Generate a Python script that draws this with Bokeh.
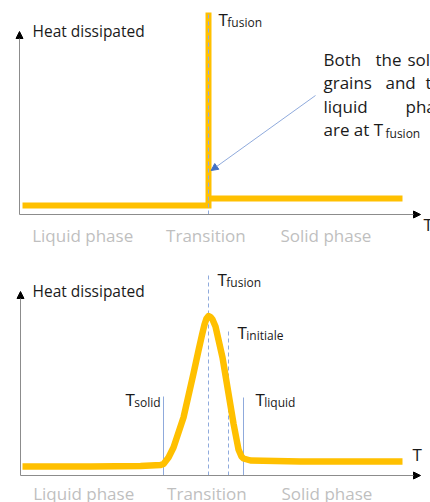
from bokeh.plotting import figure
from bokeh.models import Range1d, Label, Arrow, NormalHead
from bokeh.layouts import column
from bokeh.core.properties import value
from bokeh.embed import file_html
from bokeh.resources import INLINE

FONT = "Open Sans"
ORANGE = "#FFC000"
LIGHTBLUE = "#8FAADC"
DARKBLUE = "#4472C4"
AXIS = "#8C8C8C"
PHASE_COL = "#BFBFBF"
TXT = "#1A1A1A"
SHIFT = 6.5  # px, baseline correction for labels

# ---------------- data ----------------
phase_labels = ["Liquid phase", "Transition", "Solid phase"]
phase_pos = [15.8, 46.6, 76.6]

# pure substance (top)
T_fusion_top = 47.25
liquid_T = [0.75, 47.25, 47.25]
liquid_heat = [4.5, 4.5, 101.0]
solid_T = [47.25, 95.75]
solid_heat = [8.0, 8.0]

# alloy (bottom)
curve_T = [0.5, 17.5, 30.0, 35.0, 35.75, 37.0, 38.25, 39.5, 40.75, 42.0, 43.25, 44.5,
           45.4, 46.0, 46.5, 47.0, 47.5, 48.0, 48.75, 50.5, 52.0, 53.25, 54.5, 55.25,
           55.75, 57.5, 70.0, 95.5]
curve_heat = [4.5, 4.5, 4.8, 5.2, 5.8, 9.0, 14.0, 21.5, 29.0, 40.0, 51.0, 62.5,
              70.5, 75.5, 78.5, 79.7, 79.3, 78.0, 74.5, 59.0, 41.0, 26.0, 13.0, 9.5,
              8.5, 7.5, 7.0, 7.0]
T_solid, T_fusion, T_initiale, T_liquid = 35.75, 47.0, 52.0, 55.75
solid_line_T = [T_solid, T_liquid]
solid_line_top = [39.5, 39.0]
dash_line_T = [T_fusion, T_initiale]
dash_line_top = [101.0, 73.5]


def make_fig(h, xr, yr):
    p = figure(width=430, height=h, x_range=Range1d(*xr), y_range=Range1d(*yr),
               output_backend="svg", toolbar_location=None,
               x_axis_location=None, y_axis_location=None, min_border=0)
    p.outline_line_color = None
    p.xgrid.grid_line_color = None
    p.ygrid.grid_line_color = None
    p.background_fill_color = "white"
    p.border_fill_color = "white"
    return p


def axes(p, xtip, ytip):
    p.add_layout(Arrow(x_start=0, y_start=0, x_end=xtip, y_end=0, line_color=AXIS, line_width=1,
                       end=NormalHead(size=7, fill_color="black", line_color="black")))
    p.add_layout(Arrow(x_start=0, y_start=0, x_end=0, y_end=ytip, line_color=AXIS, line_width=1,
                       end=NormalHead(size=7, fill_color="black", line_color="black")))


def lab(p, x, y, text, size="17px", color=TXT, xo=0, yo=0):
    p.add_layout(Label(x=x, y=y, text=text, text_font=FONT, text_font_size=size,
                       text_color=color, text_baseline="alphabetic", x_offset=xo, y_offset=yo + SHIFT))


def tlab(p, x, y, sub):
    lab(p, x, y, "T")
    lab(p, x, y, sub, size="12px", xo=8.8, yo=-3.5)


# ---------------- top panel ----------------
top = make_fig(255, (-4.75, 102.75), (-20.5, 107))
axes(top, 100.25, 91.5)
top.multi_line(xs=[liquid_T, solid_T], ys=[liquid_heat, solid_heat], line_color=ORANGE,
               line_width=6, line_join="miter", line_cap="butt")
top.segment(x0=[T_fusion_top], y0=[0], x1=[T_fusion_top], y1=[liquid_heat[-1]],
            line_color=LIGHTBLUE, line_width=1, line_dash="4 3")
top.add_layout(Arrow(x_start=74, y_start=59.5, x_end=47.9, y_end=22, line_color=LIGHTBLUE, line_width=1,
                     end=NormalHead(size=7, fill_color=DARKBLUE, line_color=DARKBLUE)))
top.text(x=phase_pos, y=[-13.5 + SHIFT / 2] * 3, text=phase_labels, text_align="center",
         text_baseline="alphabetic", text_font=value(FONT), text_font_size="17px", text_color=PHASE_COL)
lab(top, 3.25, 88.5, "Heat dissipated", size="15.5px")
tlab(top, T_fusion_top + 2.5, 94.5, "fusion")
lab(top, 101, -8, "T")
# justified annotation text
for word, x, y in [("Both", 76, 74.5), ("the", 89, 74.5), ("solid", 97, 74.5),
                   ("grains", 76, 63), ("and", 91.5, 63), ("the", 101.5, 63),
                   ("liquid", 76, 51), ("phase", 96.5, 51),
                   ("are at T", 76, 39.5)]:
    lab(top, x, y, word)
lab(top, 91.5, 39.5, "fusion", size="12px", yo=-4)

# ---------------- bottom panel ----------------
bot = make_fig(247, (-5, 102.5), (-13.5, 110))
axes(bot, 100, 92)
bot.segment(x0=solid_line_T, y0=[0, 0], x1=solid_line_T, y1=solid_line_top,
            line_color=LIGHTBLUE, line_width=1)
bot.segment(x0=dash_line_T, y0=[0, 0], x1=dash_line_T, y1=dash_line_top,
            line_color=LIGHTBLUE, line_width=1, line_dash="4 3")
bot.line(curve_T, curve_heat, line_color=ORANGE, line_width=6.5, line_join="round", line_cap="butt")
bot.text(x=phase_pos, y=[-12 + SHIFT / 2] * 3, text=phase_labels, text_align="center",
         text_baseline="alphabetic", text_font=value(FONT), text_font_size="17px", text_color=PHASE_COL)
lab(bot, 3, 89, "Heat dissipated", size="15.5px")
tlab(bot, T_fusion + 2.25, 95, "fusion")
tlab(bot, T_initiale + 2.25, 68.5, "initiale")
tlab(bot, T_solid - 9.5, 35, "solid")
tlab(bot, T_liquid + 3, 35, "liquid")
lab(bot, 98, 7.5, "T")

layout = column(top, bot, spacing=0)
open("out.html", "w").write(file_html(layout, INLINE))
